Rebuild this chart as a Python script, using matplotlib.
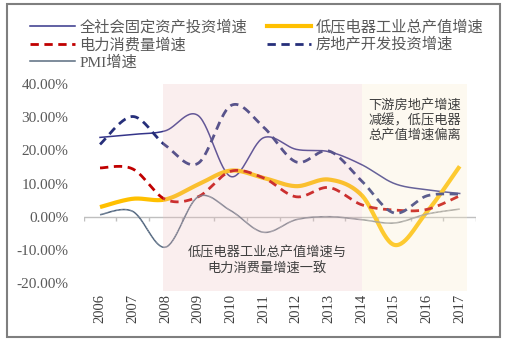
import numpy as np
import matplotlib
matplotlib.use('Agg')
import matplotlib.pyplot as plt
from matplotlib.patches import Rectangle
from matplotlib.lines import Line2D
from matplotlib.collections import LineCollection

plt.rcParams['font.family'] = ['Liberation Serif', 'Noto Sans CJK SC']

# data (growth, %)
years = ['2006', '2007', '2008', '2009', '2010', '2011', '2012', '2013', '2014', '2015', '2016', '2017']
fai = [23.9, 24.8, 25.9, 30.5, 12.1, 23.8, 20.3, 19.6, 15.7, 10.0, 8.1, 7.0]
low_voltage = [2.9, 5.4, 5.2, 9.7, 13.9, 11.7, 9.2, 11.2, 6.5, -8.5, 1.5, 15.2]
power = [14.7, 14.4, 5.2, 6.0, 13.7, 11.7, 6.0, 8.8, 3.6, 2.0, 2.2, 6.3]
real_estate = [21.8, 30.2, 21.5, 16.1, 33.5, 27.0, 16.5, 19.8, 10.8, 1.1, 6.3, 6.8]
pmi = [0.6, 1.6, -9.2, 6.0, 1.8, -4.7, -0.9, 0.0, -0.9, -1.9, 0.8, 2.3]

labels = ['全社会固定资产投资增速', '低压电器工业总产值增速', '电力消费量增速', '房地产开发投资增速', 'PMI增速']


def smooth(xs, ys, n=30):
    # Catmull-Rom style bezier, like Excel's "smoothed line"
    p = np.column_stack([xs, ys]).astype(float)
    p = np.vstack([p[0], p, p[-1]])
    out = []
    t = np.linspace(0, 1, n)[:, None]
    for i in range(1, len(p) - 2):
        p0, p1, p2, p3 = p[i - 1], p[i], p[i + 1], p[i + 2]
        c1 = p1 + (p2 - p0) / 6
        c2 = p2 - (p3 - p1) / 6
        seg = (1 - t) ** 3 * p1 + 3 * (1 - t) ** 2 * t * c1 + 3 * (1 - t) * t ** 2 * c2 + t ** 3 * p2
        out.append(seg if i == 1 else seg[1:])
    s = np.vstack(out)
    return s[:, 0], s[:, 1]


fig = plt.figure(figsize=(5.08, 3.43), dpi=100)
ax = fig.add_axes([0.1647, 0.1516, 0.7724, 0.6035])
x = np.arange(len(years))

navy = '#262F7A'
ax.plot(*smooth(x, fai), color='#35358A', lw=1.1, zorder=3)
ax.plot(*smooth(x, low_voltage), color='#FFC000', lw=3.0, zorder=3, solid_capstyle='butt')
ax.plot(*smooth(x, power), color='#C00000', lw=2.0, ls=(0, (3, 2)), zorder=3)
ax.plot(*smooth(x, real_estate), color=navy, lw=2.0, ls=(0, (3, 2)), zorder=3)

# PMI line fades from slate blue to grey
sx, sy = smooth(x, pmi)
pts = np.column_stack([sx, sy]).reshape(-1, 1, 2)
segs = np.concatenate([pts[:-1], pts[1:]], axis=1)
c0 = np.array(matplotlib.colors.to_rgb('#455C78'))
c1 = np.array(matplotlib.colors.to_rgb('#9A9A9A'))
f = np.linspace(0, 1, len(segs))[:, None]
ax.add_collection(LineCollection(segs, colors=c0 * (1 - f) + c1 * f, linewidths=1.1, zorder=3))

# shaded periods, drawn over the lines
ax.axvspan(1.93, 8.0, color='#EFBFBF', alpha=0.25, lw=0, zorder=4)
ax.axvspan(8.0, 11.22, color='#FBEBC7', alpha=0.25, lw=0, zorder=4)

ax.set_xlim(-0.5, 11.5)
ax.set_ylim(-22.4, 40)

# zero axis with tick marks between categories
ax.axhline(0, color='#BFBFBF', lw=1, zorder=2)
ax.vlines(np.arange(-0.5, 12, 1), -1.2, 0, color='#BFBFBF', lw=1, zorder=2)

for s in ax.spines.values():
    s.set_visible(False)
ax.set_xticks(x)
ax.set_xticklabels(years, rotation=90, fontsize=10.5, color='#404040')
ax.tick_params(axis='x', length=0, pad=2)
ax.set_yticks([-20, -10, 0, 10, 20, 30, 40])
ax.set_yticklabels(['%.2f%%' % v for v in [-20, -10, 0, 10, 20, 30, 40]], fontsize=11, color='#595959')
ax.tick_params(axis='y', length=0, pad=11)

ax.text(5.1, -13.3, '低压电器工业总产值增速与\n电力消费量增速一致', ha='center', va='center',
        fontsize=9.5, color='#404040', linespacing=1.3, zorder=5)
ax.text(8.2, 35.5, '下游房地产增速\n减缓，低压电器\n总产值增速偏离', ha='left', va='top',
        fontsize=9.5, color='#404040', linespacing=1.2, zorder=5)

handles = [
    Line2D([], [], color='#35358A', lw=1.1),
    Line2D([], [], color='#C00000', lw=2.0, ls=(0, (3, 2))),
    Line2D([], [], color='#5A6C80', lw=1.1),
    Line2D([], [], color='#FFC000', lw=3.0),
    Line2D([], [], color=navy, lw=2.0, ls=(0, (3, 2))),
]
leg_labels = [labels[0], labels[2], labels[4], labels[1], labels[3]]
leg = fig.legend(handles, leg_labels, loc='upper left', bbox_to_anchor=(0.045, 0.965), ncol=2,
                 frameon=False, fontsize=11, handlelength=2.9, handletextpad=0.3,
                 columnspacing=1.3, labelspacing=0.2, borderpad=0)
for t in leg.get_texts():
    t.set_color('#595959')

fig.patches.append(Rectangle((7 / 508, 6 / 343), 493 / 508, 333 / 343, transform=fig.transFigure,
                             fill=False, edgecolor='#7F7F7F', lw=1.5))

fig.savefig('out.png', dpi=100)
